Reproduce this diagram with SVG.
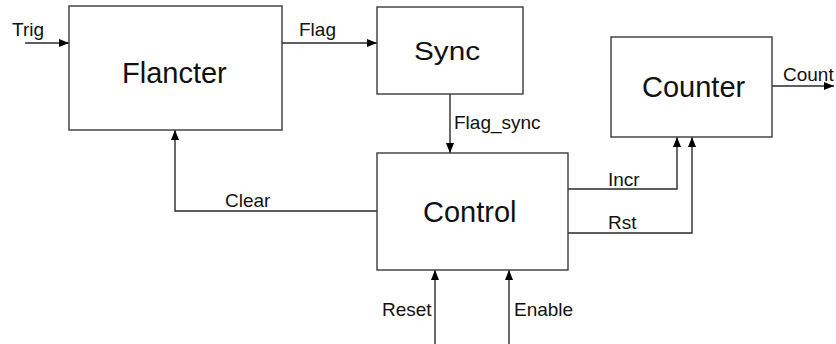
<svg xmlns="http://www.w3.org/2000/svg" width="836" height="344" viewBox="0 0 836 344">
<defs>
<style>
.box{fill:#fff;stroke:#3a3a3a;stroke-width:1.4}
.big{font-family:"Liberation Sans",Arial,sans-serif;font-size:29px;fill:#111}
.lbl{font-family:"Liberation Sans",Arial,sans-serif;font-size:19px;fill:#111}
.wire{fill:none;stroke:#2a2a2a;stroke-width:1.4}
</style>
<marker id="arr" markerUnits="userSpaceOnUse" markerWidth="10" markerHeight="8" refX="10" refY="4" orient="auto">
<path d="M0,0 L10,4 L0,8 z" fill="#000"/>
</marker>
</defs>
<rect width="836" height="344" fill="#fff"/>
<g id="connectors">
<path class="wire" d="M25,43 L69,43" marker-end="url(#arr)"/>
<path class="wire" d="M282,43 L377,43" marker-end="url(#arr)"/>
<path class="wire" d="M450,94 L450,153" marker-end="url(#arr)"/>
<path class="wire" d="M377,211 L175,211 L175,130" marker-end="url(#arr)"/>
<path class="wire" d="M568,189 L677,189 L677,137" marker-end="url(#arr)"/>
<path class="wire" d="M568,233 L692,233 L692,137" marker-end="url(#arr)"/>
<path class="wire" d="M435,344 L435,270" marker-end="url(#arr)"/>
<path class="wire" d="M509,344 L509,270" marker-end="url(#arr)"/>
<path class="wire" d="M772,86 L834,86" marker-end="url(#arr)"/>
<text class="lbl" x="12" y="36">Trig</text>
<text class="lbl" x="299" y="36">Flag</text>
<text class="lbl" x="454" y="129">Flag_sync</text>
<text class="lbl" x="225" y="207">Clear</text>
<text class="lbl" x="608" y="186">Incr</text>
<text class="lbl" x="608" y="229">Rst</text>
<text class="lbl" x="382" y="316">Reset</text>
<text class="lbl" x="514" y="316">Enable</text>
<text class="lbl" x="783" y="81">Count</text>
</g>
<g id="flancter">
<rect class="box" x="69" y="6" width="213" height="124"/>
<text class="big" x="122" y="83">Flancter</text>
</g>
<g id="sync">
<rect class="box" x="377" y="7" width="146" height="87"/>
<text class="big" x="414" y="60" style="font-size:25px" textLength="66" lengthAdjust="spacingAndGlyphs">Sync</text>
</g>
<g id="counter">
<rect class="box" x="611" y="37" width="161" height="100"/>
<text class="big" x="642" y="97">Counter</text>
</g>
<g id="control">
<rect class="box" x="377" y="153" width="191" height="117"/>
<text class="big" x="423" y="222">Control</text>
</g>
</svg>
